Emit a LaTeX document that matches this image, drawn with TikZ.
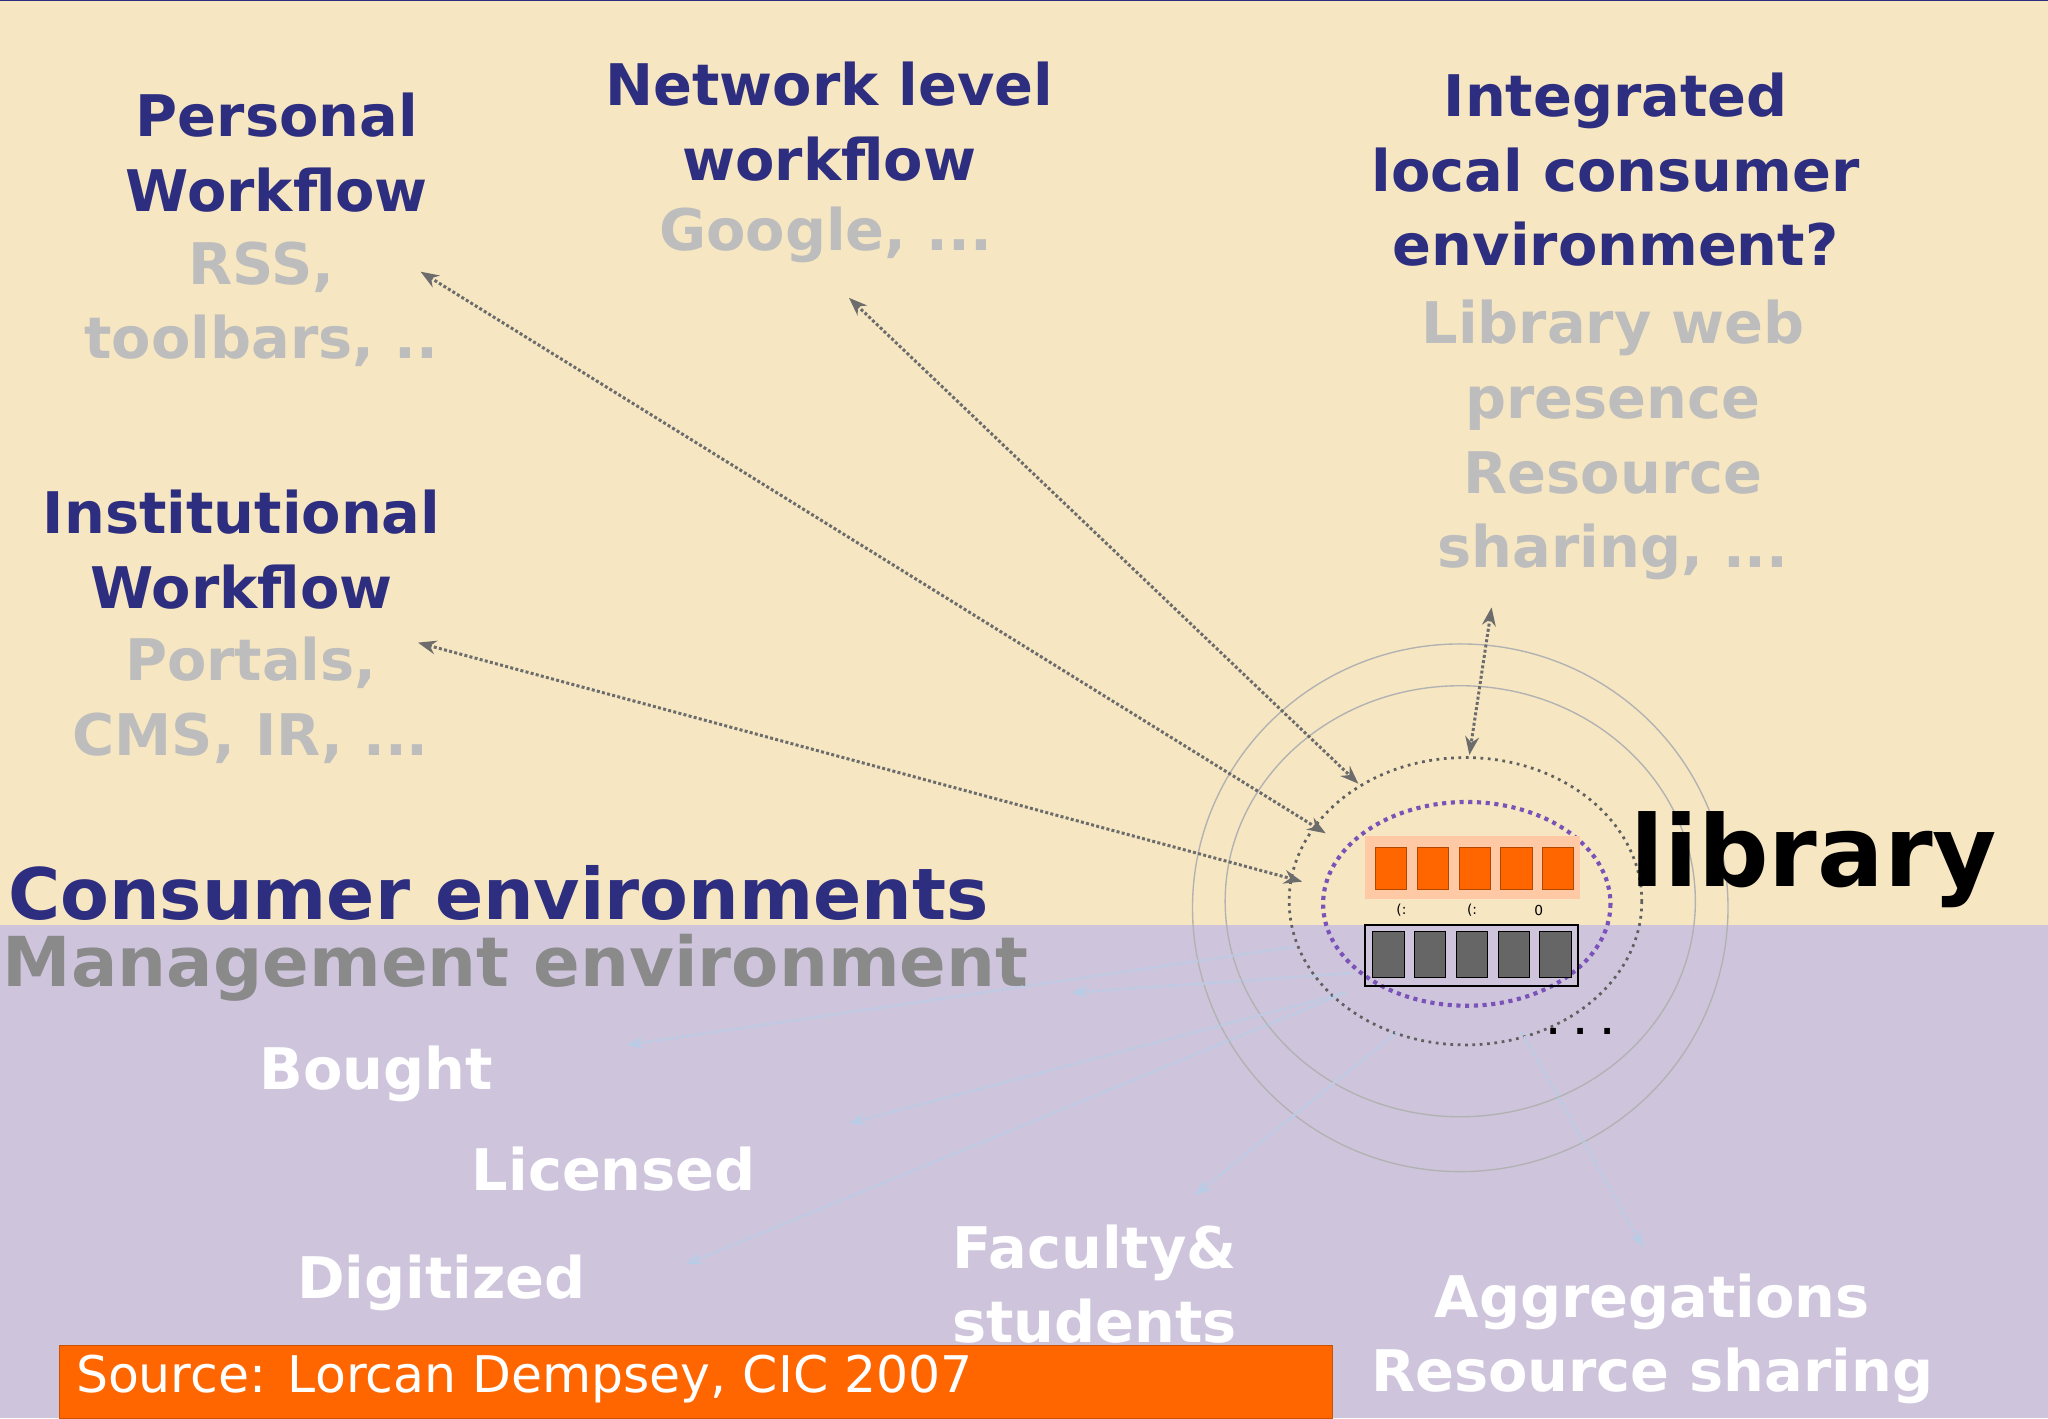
\documentclass[tikz,border=0pt]{standalone}
\usepackage{fontspec}
\setmainfont{DejaVu Sans}
\usetikzlibrary{arrows.meta}
\definecolor{beige}{HTML}{F6E7C2}
\definecolor{lav}{HTML}{CEC5DD}
\definecolor{navy}{HTML}{2E2E80}
\definecolor{gtxt}{HTML}{BDBDBD}
\definecolor{mgrey}{HTML}{8A8A8A}
\definecolor{orng}{HTML}{FF6600}
\definecolor{fblue}{HTML}{B8CCE6}
\definecolor{purp}{HTML}{7B52B8}
\tikzset{
 ttl/.style={font=\bfseries\fontsize{25}{32.5}\selectfont,text=navy,align=center},
 sub/.style={font=\bfseries\fontsize{25}{32.5}\selectfont,text=gtxt,align=center},
 wht/.style={font=\bfseries\fontsize{25}{32}\selectfont,text=white,align=center},
 darr/.style={densely dotted,line width=1.3pt,draw=gray!85!black,{Stealth[length=8pt]}-{Stealth[length=8pt]}},
 farr/.style={densely dotted,line width=1.2pt,draw=fblue,-{Stealth[length=7pt]}},
 ob/.style={fill=orng,draw=orng!70!black,minimum width=0.48cm,minimum height=0.64cm,inner sep=0},
 gb/.style={fill=gray!80!black,draw=black,minimum width=0.48cm,minimum height=0.7cm,inner sep=0}
}
\begin{document}
\begin{tikzpicture}[x=0.02cm,y=-0.02cm]
\useasboundingbox (0,0) rectangle (1568,1086);
\fill[beige] (0,0) rectangle (1568,708);
\fill[lav] (0,708) rectangle (1568,1086);
\draw[navy,line width=1pt] (0,0)--(1568,0);
% circles
\draw[gray!60,line width=0.6pt] (1118,695) ellipse (205 and 202);
\draw[gray!60,line width=0.6pt] (1118,690) ellipse (180 and 165);
\draw[gray!75!black,dotted,line width=1.2pt] (1122,690) ellipse (135 and 110);
\draw[purp,dotted,line width=1.8pt] (1123,692) ellipse (110 and 78);
% library icon
\fill[orng!35] (1045,640) rectangle (1210,688);
\foreach \i [count=\k] in {0,1,2,3,4} \node[ob] (o\k) at (1065+\i*32,665) {};
\draw[black,line width=1pt] (1045,708) rectangle (1208,755);
\foreach \i [count=\k] in {0,1,2,3,4} \node[gb] (g\k) at (1063+\i*32,731) {};
\node[font=\fontsize{6}{6}\selectfont] (m1) at (1073,697) {(:};
\node[font=\fontsize{6}{6}\selectfont] (m2) at (1127,697) {(:};
\node[font=\fontsize{6}{6}\selectfont] (m3) at (1178,697) {0};
\node[font=\bfseries\fontsize{14}{14}\selectfont] (dots) at (1210,790) {. . .};
% texts
\node[ttl] (pw) at (212,117) {Personal\\Workflow};
\node[sub] (pws) at (200,233) {RSS,\\toolbars, ..};
\node[ttl] (nw) at (635,93) {Network level\\workflow};
\node[sub] (nws) at (632,180) {Google, ...};
\node[ttl] (ic) at (1237,130) {Integrated\\local consumer\\environment?};
\node[sub] (ics) at (1235,337) {Library web\\presence\\Resource\\sharing, ...};
\node[ttl] (iw) at (185,421) {Institutional\\Workflow};
\node[sub] (iws) at (192,536) {Portals,\\CMS, IR, ...};
\node[font=\bfseries\fontsize{31}{34}\selectfont,text=navy,anchor=west] (ce) at (0,684) {Consumer environments};
\node[font=\bfseries\fontsize{30}{34}\selectfont,text=mgrey,anchor=west] (me) at (-4,741) {Management environment};
\node[font=\bfseries\fontsize{43}{48}\selectfont,anchor=west,inner sep=0] (lib) at (1248,658) {library};
\node[wht] (bo) at (288,822) {Bought};
\node[wht] (li) at (470,895) {Licensed};
\node[wht] (di) at (338,982) {Digitized};
\node[wht] (fa) at (838,983) {Faculty\&\\students};
\node[wht] (ag) at (1265,1025) {Aggregations\\Resource sharing};
% arrows
\coordinate (a1) at (1015,638); \coordinate (p1) at (322,208);
\coordinate (a2) at (1040,600); \coordinate (p2) at (650,228);
\coordinate (a3) at (997,675);  \coordinate (p3) at (320,492);
\coordinate (a4) at (1125,578); \coordinate (p4) at (1142,465);
\draw[darr] (p1) -- (a1);
\draw[darr] (p2) -- (a2);
\draw[darr] (p3) -- (a3);
\draw[darr] (p4) -- (a4);
\coordinate (b0) at (990,725); \coordinate (b1) at (1030,760);
\coordinate (b2) at (1070,790); \coordinate (b3) at (1165,790);
\draw[farr] (b0) -- (480,800);
\draw[farr] (b1) -- (650,860);
\draw[farr] (b1) -- (525,968);
\draw[farr] (b2) -- (915,915);
\draw[farr] (b3) -- (1258,955);
\draw[farr] (1035,745) -- (820,760);
% source bar
\node[fill=orng,draw=orng!80!black,minimum width=19.5cm,minimum height=1.12cm,anchor=north west,inner sep=0] (src) at (45,1030) {};
\node[font=\fontsize{22}{26}\selectfont,text=white,anchor=west] (srct) at (52,1056) {Source: Lorcan Dempsey, CIC 2007};
\end{tikzpicture}
\end{document}
